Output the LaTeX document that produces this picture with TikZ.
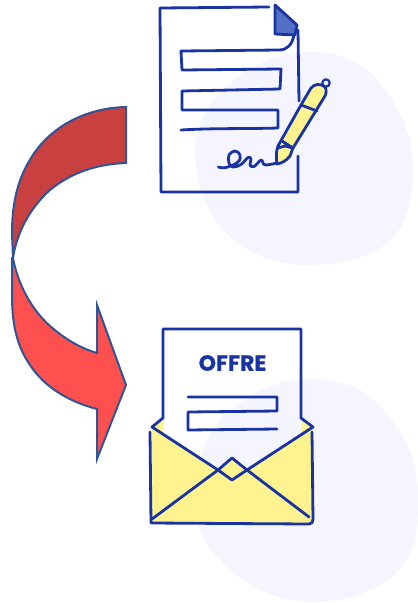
\documentclass[tikz,border=0pt]{standalone}
\usepackage{fontspec}
\setmainfont{Poppins}
\newfontfamily\offrefont[BoldFeatures={FakeBold=0.7}]{Poppins}
\definecolor{inkblue}{HTML}{1A33A3}
\definecolor{foldblue}{HTML}{5470C4}
\definecolor{penyellow}{HTML}{FFF38F}
\definecolor{blobtint}{HTML}{F5F5FF}
\definecolor{arrowedge}{HTML}{2F5597}
\definecolor{arrowdark}{HTML}{C94040}
\definecolor{arrowlight}{HTML}{FF5050}
\tikzset{
  ink/.style={draw=inkblue,line width=2.8pt,line cap=round,line join=round},
  blob/.style={fill=blobtint},
  arrowpart/.style={draw=arrowedge,line width=2pt,line join=miter,miter limit=10}
}
\begin{document}
\begin{tikzpicture}[x=1pt,y=-1pt]
\useasboundingbox (0,0) rectangle (418,603);
\clip (0,0) rectangle (418,603);
% blobs
\fill[blob] (310,52) .. controls (345,52) and (365,65) .. (380,83)
     .. controls (400,108) and (413,135) .. (413,170)
     .. controls (413,195) and (408,218) .. (397,233)
     .. controls (378,258) and (340,265) .. (307,265)
     .. controls (270,265) and (243,250) .. (223,230)
     .. controls (205,210) and (195,180) .. (195,150)
     .. controls (195,125) and (210,100) .. (230,83)
     .. controls (255,63) and (280,52) .. (310,52) -- cycle;
\fill[blob] (310,379) .. controls (345,379) and (365,390) .. (380,406)
     .. controls (403,430) and (418,460) .. (418,495)
     .. controls (418,525) and (417,545) .. (405,562)
     .. controls (385,592) and (345,602) .. (313,602)
     .. controls (275,602) and (245,585) .. (223,563)
     .. controls (208,548) and (199,535) .. (195,510)
     .. controls (192,470) and (205,430) .. (230,410)
     .. controls (255,390) and (280,379) .. (310,379) -- cycle;
% curved arrow
\draw[arrowpart,fill=arrowlight] (13,258) .. controls (18,285) and (32,310) .. (50,326)
  .. controls (65,339) and (80,348) .. (97,353) -- (97,305) -- (126,385) -- (97,459) -- (97,409)
  .. controls (70,402) and (45,388) .. (30,365) .. controls (16,345) and (12,322) .. (12,295) -- (12,258) -- cycle;
\draw[arrowpart,fill=arrowdark] (126,107) .. controls (85,108) and (50,127) .. (31,158)
  .. controls (17,180) and (12,205) .. (12,233) -- (13,258)
  .. controls (17,232) and (30,208) .. (50,190) .. controls (72,172) and (98,164) .. (126,163) -- cycle;
% document
\draw[ink] (269,7) -- (160,8) -- (161,192) -- (298,192) -- (298,156);
\draw[ink] (298,30) -- (299,101);
\draw[ink,fill=foldblue] (275,5) -- (297,25) -- (295,35) -- (275,34) -- cycle;
\draw[ink] (294,35) .. controls (292,45) and (287,50) .. (279,50) -- (181,51) -- (182,70) -- (281,69)
  -- (280,89) -- (182,91) -- (182,110) -- (278,110) -- (278,128) .. controls (245,129) and (215,128) .. (181,130);
% pen
\draw[ink,fill=penyellow] (277,164) .. controls (276,156) and (276,152) .. (278,146) -- (301,105) -- (311,88)
  .. controls (314,84) and (321,83) .. (325,87) .. controls (327,90) and (326,94) .. (325,96)
  -- (293,148) -- (290,156) .. controls (286,161) and (282,163) .. (277,164) -- cycle;
\draw[ink] (282,141) -- (293,148) -- (285,146) -- (278,148);
\draw[ink] (301,105) -- (317,111);
\draw[ink,fill=blobtint,line width=2.2pt] (326,83) circle (3.7);
% signature
\draw[ink] plot[smooth,tension=0.65] coordinates {(218.3,167) (226,167.5) (238,162) (240,155) (235,151) (229,155) (229,163) (233,167) (241,164.5) (248,157.5) (251,159) (250,165) (254,166.5) (261,160) (263,163) (266,165) (277,163)};
% envelope
\fill[penyellow] (152,427) -- (218,470) -- (232,458) -- (247,470) -- (313,427) -- (312,432) -- (313,520) -- (310,524) -- (151,523) -- cycle;
\fill[penyellow] (163,418) -- (152,427) -- (163,434) -- cycle;
\fill[penyellow] (301,418) -- (313,427) -- (301,435) -- cycle;
\draw[ink] (163,418) -- (163,329) -- (301,329) -- (301,418) -- (313,427) -- (247,470) -- (232,458) -- (218,470) -- (152,427) -- cycle;
\draw[ink] (152,519) -- (218,470) -- (232,480) -- (247,470) -- (309,517);
\draw[ink] (150,432) -- (151,523) -- (309,524) .. controls (312,524) and (313,522) .. (313,519) -- (312,432);
% letter lines
\draw[ink] (188,397) -- (277,397) -- (277,411) -- (188,412) -- (188,430) -- (277,429);
\node[text=inkblue,font=\offrefont\bfseries\fontsize{22}{22}\selectfont,inner sep=0pt,anchor=center] (offre) at (232.5,363) {OFFRE};
\end{tikzpicture}
\end{document}
